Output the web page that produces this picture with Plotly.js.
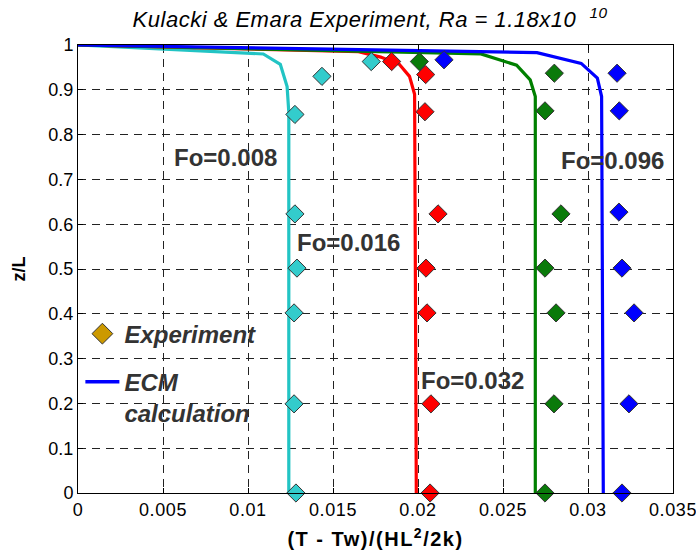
<!DOCTYPE html>
<html><head><meta charset="utf-8">
<script src="https://cdn.plot.ly/plotly-3.0.1.min.js"></script>
<style>
html,body{margin:0;padding:0;background:#fff}
#chart{width:696px;height:556px}
#chart .gtitle{letter-spacing:0.5px}
#chart .xtitle{letter-spacing:1.5px}
#chart .xtick text{letter-spacing:0.6px}
</style>
</head><body><div id="chart"></div>
<script>
// Experimental points (z/L and dimensionless temperature)
const zCyan  = [0, 0.199, 0.402, 0.502, 0.623, 0.845, 0.930, 0.963];
const xCyan  = [0.01282, 0.01271, 0.01271, 0.01288, 0.01276, 0.01276, 0.01435, 0.01725];
const zRed   = [0, 0.199, 0.402, 0.502, 0.623, 0.851, 0.934, 0.963];
const xRed   = [0.02071, 0.02076, 0.02053, 0.02047, 0.02118, 0.02041, 0.02045, 0.01845];
const zGreen = [0, 0.199, 0.402, 0.502, 0.623, 0.853, 0.937, 0.963];
const xGreen = [0.02747, 0.02800, 0.02812, 0.02747, 0.02841, 0.02747, 0.02802, 0.02008];
const zBlue  = [0, 0.199, 0.402, 0.502, 0.627, 0.853, 0.937, 0.967];
const xBlue  = [0.03200, 0.03241, 0.03271, 0.03200, 0.03182, 0.03184, 0.03171, 0.02153];

// ECM calculation curves
const lxCyan  = [0, 0.0109, 0.0119, 0.0123, 0.0124, 0.0124];
const lzCyan  = [1, 0.980, 0.957, 0.907, 0.850, 0];
const lxRed   = [0, 0.0165, 0.0178, 0.0189, 0.0195, 0.0198, 0.0199];
const lzRed   = [1, 0.985, 0.973, 0.957, 0.930, 0.890, 0];
const lxGreen = [0, 0.0237, 0.0258, 0.0266, 0.0269, 0.0269];
const lzGreen = [1, 0.980, 0.955, 0.922, 0.885, 0];
const lxBlue  = [0, 0.0270, 0.0296, 0.03055, 0.0308, 0.0309];
const lzBlue  = [1, 0.983, 0.959, 0.926, 0.885, 0];

const foLabels = ["Fo=0.008", "Fo=0.016", "Fo=0.032", "Fo=0.096"];
const foX = [0.00865, 0.01594, 0.02318, 0.03147];
const foY = [0.748, 0.560, 0.252, 0.743];

const colors = {cyan:'#22c4c4', red:'#ff0000', green:'#008000', blue:'#0000ff'};
const mcolors = {cyan:'#33cccc', red:'#ff0000', green:'#0a7a0a', blue:'#0000ff'};

function line(x, y, c){ return {x:x, y:y, type:'scatter', mode:'lines', line:{color:c, width:3.2}, showlegend:false, cliponaxis:false, hoverinfo:'skip'}; }
function pts(x, y, c){ return {x:x, y:y, type:'scatter', mode:'markers', marker:{symbol:'diamond', size:14, color:c, line:{color:'#333', width:1}}, showlegend:false, cliponaxis:false}; }

const traces = [
  line(lxCyan, lzCyan, colors.cyan),
  line(lxRed, lzRed, colors.red),
  line(lxGreen, lzGreen, colors.green),
  line(lxBlue, lzBlue, colors.blue),
  pts(xCyan, zCyan, mcolors.cyan),
  pts(xRed, zRed, mcolors.red),
  pts(xGreen, zGreen, mcolors.green),
  pts(xBlue, zBlue, mcolors.blue),
  {x:[null], y:[null], type:'scatter', mode:'markers', name:'Experiment', marker:{symbol:'diamond', size:16, color:'#cc9900', line:{color:'#333', width:1}}, legendgroup:'a'},
  {x:[null], y:[null], type:'scatter', mode:'lines', name:'ECM<br>calculation', line:{color:'#0000ff', width:3.5}, legendgroup:'b'}
];

const fam = '"Liberation Sans", Arial, sans-serif';
const layout = {
  width:696, height:556,
  margin:{l:78, r:23, t:45, b:63},
  paper_bgcolor:'#fff', plot_bgcolor:'#fff',
  font: {family:fam, color:'#000'},
  showlegend:true,
  title:{text:'Kulacki &amp; Emara Experiment, Ra = 1.18x10  <sup>10</sup>', x:0.491, xref:'paper', xanchor:'center', y:0.965, yanchor:'middle',
         font:{family:fam, size:22, style:'italic', color:'#000'}},
  xaxis:{range:[0,0.035], dtick:0.005, tick0:0, showgrid:true, gridcolor:'#222', griddash:'8px,6px', gridwidth:1,
         zeroline:false, showline:true, linecolor:'#000', linewidth:1, mirror:'ticks', ticks:'inside', ticklen:5, tickcolor:'#000',
         tickfont:{family:fam, size:18, color:'#000'},
         title:{text:'(T - Tw)/(HL<sup>2</sup>/2k)', font:{family:fam, size:20, weight:'bold', color:'#000'}, standoff:13}},
  yaxis:{range:[0,1], dtick:0.1, tick0:0, showgrid:true, gridcolor:'#222', griddash:'8px,6px', gridwidth:1,
         zeroline:false, showline:true, linecolor:'#000', linewidth:1, mirror:'ticks', ticks:'inside', ticklen:5, tickcolor:'#000',
         tickfont:{family:fam, size:18, color:'#000'},
         title:{text:'z/L', font:{family:fam, size:18, weight:'bold', color:'#000'}, standoff:18}},
  legend:{x:0.004, y:0.405, xanchor:'left', yanchor:'top', bgcolor:'rgba(0,0,0,0)', borderwidth:0,
          font:{family:fam, size:24, weight:'bold', style:'italic', color:'#333'},
          itemwidth:34, valign:'top', traceorder:'grouped', tracegroupgap:14},
  annotations: foLabels.map((t,i)=>({x:foX[i], y:foY[i], xref:'x', yref:'y', text:t, showarrow:false,
          font:{family:fam, size:24, weight:'bold', color:'#333'}}))
};

Plotly.newPlot('chart', traces, layout, {displayModeBar:false, staticPlot:true});
</script>
</body></html>
